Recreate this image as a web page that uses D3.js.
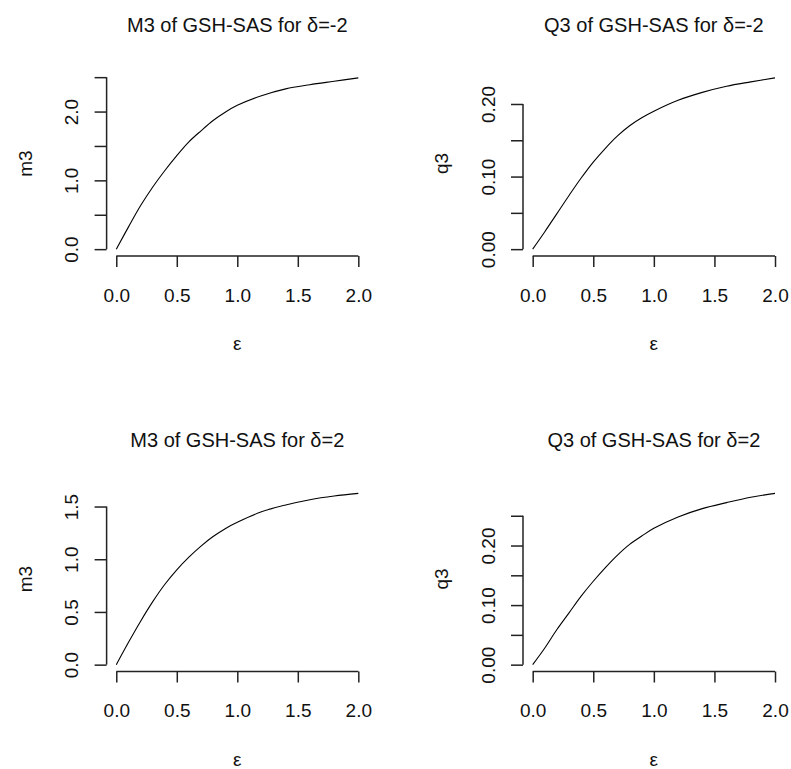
<!DOCTYPE html>
<html>
<head>
<meta charset="utf-8">
<script src="https://cdn.jsdelivr.net/npm/d3@7"></script>
<style>
  html, body { margin: 0; padding: 0; background: #fff; }
  svg { display: block; font-family: "Liberation Sans", Arial, sans-serif; }
</style>
</head>
<body>
<svg id="chart" width="791" height="769"></svg>
<script>
// ---- data ----
const eps = [0, 0.1, 0.2, 0.3, 0.4, 0.5, 0.6, 0.7, 0.8, 0.9, 1.0, 1.2, 1.4, 1.6, 1.8, 2.0];
const m3DeltaNeg2 = [0, 0.32, 0.63, 0.90, 1.14, 1.36, 1.56, 1.72, 1.87, 1.99, 2.09, 2.23, 2.33, 2.39, 2.44, 2.49];
const q3DeltaNeg2 = [0, 0.024, 0.049, 0.074, 0.098, 0.120, 0.139, 0.156, 0.170, 0.181, 0.190, 0.205, 0.216, 0.2245, 0.2305, 0.236];
const m3DeltaPos2 = [0, 0.21, 0.41, 0.595, 0.76, 0.90, 1.02, 1.125, 1.215, 1.29, 1.35, 1.45, 1.515, 1.565, 1.60, 1.625];
const q3DeltaPos2 = [0, 0.028, 0.059, 0.087, 0.115, 0.140, 0.163, 0.184, 0.202, 0.216, 0.229, 0.248, 0.262, 0.272, 0.281, 0.2876];

const xTicks = [0, 0.5, 1.0, 1.5, 2.0];
const xTickLabels = ["0.0", "0.5", "1.0", "1.5", "2.0"];

const yTicksTL = [0, 0.5, 1.0, 1.5, 2.0, 2.5];
const yLabelsTL = ["0.0", "", "1.0", "", "2.0", ""];
const yTicksTR = [0, 0.05, 0.10, 0.15, 0.20];
const yLabelsTR = ["0.00", "", "0.10", "", "0.20"];
const yTicksBL = [0, 0.5, 1.0, 1.5];
const yLabelsBL = ["0.0", "0.5", "1.0", "1.5"];
const yTicksBR = [0, 0.05, 0.10, 0.15, 0.20, 0.25];
const yLabelsBR = ["0.00", "", "0.10", "", "0.20", ""];

const titles = ["M3 of GSH-SAS for \u03b4=-2", "Q3 of GSH-SAS for \u03b4=-2",
                "M3 of GSH-SAS for \u03b4=2", "Q3 of GSH-SAS for \u03b4=2"];
const yTitles = ["m3", "q3", "m3", "q3"];
const xTitle = "\u03b5";

// ---- layout ----
const svg = d3.select("#chart");
svg.append("rect").attr("width", 791).attr("height", 769).attr("fill", "#fff");

const cols = [{L: 106.6, R: 368}, {L: 523, R: 784.7}];
const rows = [{T: 71, B: 256}, {T: 486.5, B: 671.5}];

const panels = [
  {col: 0, row: 0, vals: m3DeltaNeg2, yt: yTicksTL, yl: yLabelsTL},
  {col: 1, row: 0, vals: q3DeltaNeg2, yt: yTicksTR, yl: yLabelsTR},
  {col: 0, row: 1, vals: m3DeltaPos2, yt: yTicksBL, yl: yLabelsBL},
  {col: 1, row: 1, vals: q3DeltaPos2, yt: yTicksBR, yl: yLabelsBR}
];

const axisColor = "#222";
const textColor = "#111";

panels.forEach((p, i) => {
  const {L, R} = cols[p.col];
  const {T, B} = rows[p.row];
  const xMin = d3.min(eps), xMax = d3.max(eps), xr = xMax - xMin;
  const yMin = d3.min(p.vals), yMax = d3.max(p.vals), yr = yMax - yMin;
  const x = d3.scaleLinear().domain([xMin - 0.04 * xr, xMax + 0.04 * xr]).range([L, R]);
  const y = d3.scaleLinear().domain([yMin - 0.04 * yr, yMax + 0.04 * yr]).range([B, T]);

  const g = svg.append("g");

  // curve
  const line = d3.line().x((d, j) => x(eps[j])).y(d => y(d)).curve(d3.curveCatmullRom.alpha(0.5));
  g.append("path").datum(p.vals).attr("d", line)
    .attr("fill", "none").attr("stroke", "#000").attr("stroke-width", 1.1);

  // x axis
  const gx = g.append("g").attr("transform", `translate(0,${B})`)
    .call(d3.axisBottom(x).tickValues(xTicks).tickSize(11).tickSizeOuter(0)
      .tickFormat((d, j) => xTickLabels[j]));
  gx.select(".domain").attr("d", `M${x(xTicks[0])},0H${x(xTicks[xTicks.length - 1])}`)
    .attr("stroke", axisColor).attr("stroke-width", 1.5);
  gx.selectAll(".tick line").attr("stroke", axisColor).attr("stroke-width", 1.5);
  gx.selectAll(".tick text").attr("y", 45.5).attr("dy", 0)
    .attr("fill", textColor).style("font-size", "19px")
    .style("font-family", "'Liberation Sans', Arial, sans-serif");

  // y axis
  const gy = g.append("g").attr("transform", `translate(${L},0)`)
    .call(d3.axisLeft(y).tickValues(p.yt).tickSize(12).tickSizeOuter(0)
      .tickFormat((d, j) => p.yl[j]));
  gy.select(".domain").attr("d", `M0,${y(p.yt[0])}V${y(p.yt[p.yt.length - 1])}`)
    .attr("stroke", axisColor).attr("stroke-width", 1.5);
  gy.selectAll(".tick line").attr("stroke", axisColor).attr("stroke-width", 1.5);
  gy.selectAll(".tick text").attr("x", 0).attr("dy", 0)
    .attr("transform", "translate(-28.5,0) rotate(-90)")
    .attr("text-anchor", "middle")
    .attr("fill", textColor).style("font-size", "19px")
    .style("font-family", "'Liberation Sans', Arial, sans-serif");

  // titles
  const cx = (L + R) / 2;
  g.append("text").attr("x", cx).attr("y", T - 39.5).attr("text-anchor", "middle")
    .attr("fill", textColor).style("font-size", "20px").text(titles[i]);
  g.append("text").attr("x", cx).attr("y", B + 94).attr("text-anchor", "middle")
    .attr("fill", textColor).style("font-size", "19px").text(xTitle);
  const cy = (T + B) / 2;
  g.append("text").attr("transform", `translate(${L - 75},${cy}) rotate(-90)`)
    .attr("text-anchor", "middle")
    .attr("fill", textColor).style("font-size", "19px").text(yTitles[i]);
});
</script>
</body>
</html>
